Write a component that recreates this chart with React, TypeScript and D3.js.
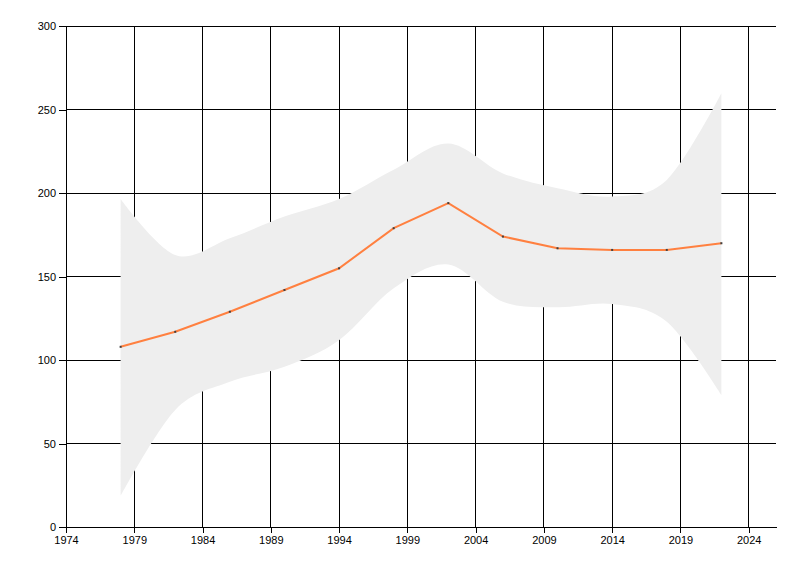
import { useRef, useEffect } from 'react';
import * as d3 from 'd3';

const years = [1978, 1982, 1986, 1990, 1994, 1998, 2002, 2006, 2010, 2014, 2018, 2022];
const values = [108, 117, 129, 142, 155, 179, 194, 174, 167, 166, 166, 170];
const upper = [196.5, 163, 173, 186, 196.5, 214, 229.7, 211.8, 202.9, 197.9, 207.8, 259.7];
const lower = [18.7, 70.2, 87.1, 96.1, 112, 143, 157.3, 135, 131.7, 133.6, 123, 79.2];

const xTicks = [1974, 1979, 1984, 1989, 1994, 1999, 2004, 2009, 2014, 2019, 2024];
const yTicks = [0, 50, 100, 150, 200, 250, 300];

const W = 800;
const H = 576;
const FONT = '"Liberation Sans", Arial, sans-serif';

export default function App() {
  const svgRef = useRef<SVGSVGElement>(null);

  useEffect(() => {
    if (!svgRef.current) return;
    const svg = d3.select(svgRef.current);
    svg.selectAll('*').remove();

    const x = d3.scaleLinear().domain([1974, 2026]).range([66, 776]);
    const y = d3.scaleLinear().domain([0, 300]).range([527.3, 26]);

    // grid lines (under the band)
    const grid = svg.append('g').attr('stroke', '#000').attr('stroke-width', 1).attr('shape-rendering', 'crispEdges');
    grid.selectAll('line.h')
      .data(yTicks.filter(d => d > 0))
      .join('line')
      .attr('class', 'h')
      .attr('x1', x(1974)).attr('x2', x(2026))
      .attr('y1', d => y(d)).attr('y2', d => y(d));
    grid.selectAll('line.v')
      .data(xTicks.filter(d => d > 1974))
      .join('line')
      .attr('class', 'v')
      .attr('x1', d => x(d)).attr('x2', d => x(d))
      .attr('y1', y(300)).attr('y2', y(0));

    // range band
    const idx = d3.range(years.length);
    const area = d3.area<number>()
      .x(i => x(years[i]))
      .y0(i => y(lower[i]))
      .y1(i => y(upper[i]))
      .curve(d3.curveCardinal.tension(0));
    svg.append('path')
      .attr('d', area(idx))
      .attr('fill', '#eeeeee');

    // series line
    const line = d3.line<number>()
      .x(i => x(years[i]))
      .y(i => y(values[i]));
    svg.append('path')
      .attr('d', line(idx))
      .attr('fill', 'none')
      .attr('stroke', '#ff8040')
      .attr('stroke-width', 2);

    svg.append('g')
      .selectAll('rect')
      .data(idx)
      .join('rect')
      .attr('x', i => x(years[i]) - 1)
      .attr('y', i => y(values[i]) - 1)
      .attr('width', 2)
      .attr('height', 2)
      .attr('fill', '#404040');

    // axes
    const xAxis = svg.append('g')
      .attr('transform', `translate(0,${y(0)})`)
      .call(d3.axisBottom(x).tickValues(xTicks).tickFormat(d3.format('d')).tickSize(6).tickSizeOuter(0).tickPadding(3));
    const yAxis = svg.append('g')
      .attr('transform', `translate(${x(1974)},0)`)
      .call(d3.axisLeft(y).tickValues(yTicks).tickSize(7).tickSizeOuter(0).tickPadding(3));

    [xAxis, yAxis].forEach(g => {
      g.select('.domain').attr('stroke', '#000').attr('shape-rendering', 'crispEdges');
      g.selectAll('.tick line').attr('stroke', '#000').attr('shape-rendering', 'crispEdges');
      g.selectAll('.tick text')
        .attr('fill', '#000')
        .attr('font-family', FONT)
        .attr('font-size', 11);
    });
  }, []);

  return (
    <svg
      ref={svgRef}
      width={W}
      height={H}
      style={{ position: 'absolute', left: 0, top: 0, background: '#fff' }}
    />
  );
}
